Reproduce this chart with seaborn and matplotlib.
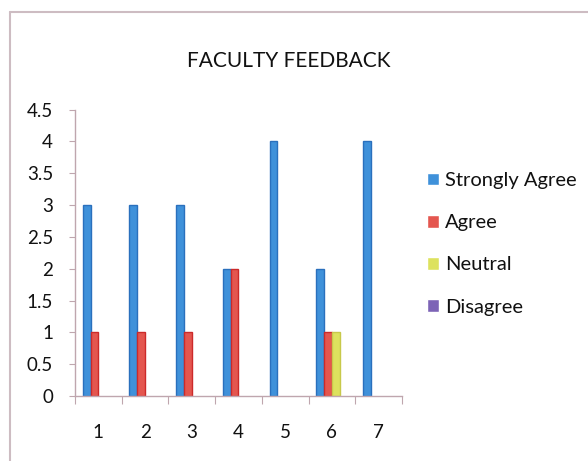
import numpy as np
import pandas as pd
import seaborn as sns
import matplotlib.pyplot as plt
from matplotlib.lines import Line2D
from matplotlib.ticker import FixedLocator

# Survey items and response categories
items = ["1", "2", "3", "4", "5", "6", "7"]
responses = ["Strongly Agree", "Agree", "Neutral", "Disagree"]

# Counts per item for each response
strongly_agree = [3, 3, 3, 2, 4, 2, 4]
agree = [1, 1, 1, 2, 0, 1, 0]
neutral = [0, 0, 0, 0, 0, 1, 0]
disagree = [0, 0, 0, 0, 0, 0, 0]

y_ticks = [0, 0.5, 1, 1.5, 2, 2.5, 3, 3.5, 4, 4.5]
y_tick_labels = ["0", "0.5", "1", "1.5", "2", "2.5", "3", "3.5", "4", "4.5"]

fill_colors = ["#3f91da", "#e4564f", "#dde25e", "#7d64b6"]
edge_colors = ["#2a70bd", "#cc2a2a", "#c8c94a", "#5f4a99"]

sns.set_theme(style="white")
plt.rcParams["font.family"] = ["Lato", "DejaVu Sans"]

df = pd.DataFrame({
    "Item": items * 4,
    "Response": sum([[r] * len(items) for r in responses], []),
    "Score": strongly_agree + agree + neutral + disagree,
})

fig = plt.figure(figsize=(5.88, 4.61), dpi=100)
W, H = 588, 461
ax = fig.add_axes([75 / W, 1 - 396 / H, (402 - 75) / W, (396 - 109.5) / H])

sns.barplot(data=df, x="Item", y="Score", hue="Response", order=items,
            hue_order=responses, palette=fill_colors, saturation=1,
            width=0.67, ax=ax, errorbar=None)

# Outline the visible bars; empty ones stay invisible
for cont, ec in zip(ax.containers, edge_colors):
    for bar in cont:
        if bar.get_height() > 0:
            bar.set_edgecolor(ec)
            bar.set_linewidth(1.0)
        else:
            bar.set_linewidth(0)

ax.set_ylim(0, 4.5)
ax.set_xlim(-0.5, len(items) - 0.5)
ax.set_yticks(y_ticks)
ax.set_yticklabels(y_tick_labels)
ax.set_xlabel("")
ax.set_ylabel("")

ax.xaxis.set_minor_locator(FixedLocator(np.arange(-0.5, len(items), 1.0)))
spine_color = "#bfa6ae"
for side in ["top", "right"]:
    ax.spines[side].set_visible(False)
for side in ["left", "bottom"]:
    ax.spines[side].set_color(spine_color)
    ax.spines[side].set_linewidth(1.0)

ax.tick_params(axis="y", which="major", direction="out", length=4.3,
               width=0.8, color=spine_color, pad=11.5, labelsize=13.5,
               labelcolor="#111111", left=True)
ax.tick_params(axis="x", which="major", length=0, pad=20, labelsize=13.5,
               labelcolor="#111111")
ax.tick_params(axis="x", which="minor", direction="out", length=5.8,
               width=0.8, color=spine_color, bottom=True)

handles, labels = ax.get_legend_handles_labels()
ax.legend(handles, labels, loc="upper left",
          bbox_to_anchor=(417 / W, 1 - 162 / H),
          bbox_transform=fig.transFigure, frameon=False, fontsize=14.5,
          handlelength=0.6, handleheight=0.6, handletextpad=0.3,
          labelspacing=1.25, borderpad=0, labelcolor="#111111")

fig.text(289 / W, 1 - 61 / H, "FACULTY FEEDBACK", ha="center", va="center",
         fontsize=15, color="#111111")

# Chart area frame
frame_color = "#cdbcc2"
fig.add_artist(Line2D([10 / W, 10 / W], [0, 1 - 12 / H],
                      transform=fig.transFigure, color=frame_color, lw=1.5))
fig.add_artist(Line2D([10 / W, 1], [1 - 12 / H, 1 - 12 / H],
                      transform=fig.transFigure, color=frame_color, lw=1.5))

fig.savefig("out.png", dpi=100)
